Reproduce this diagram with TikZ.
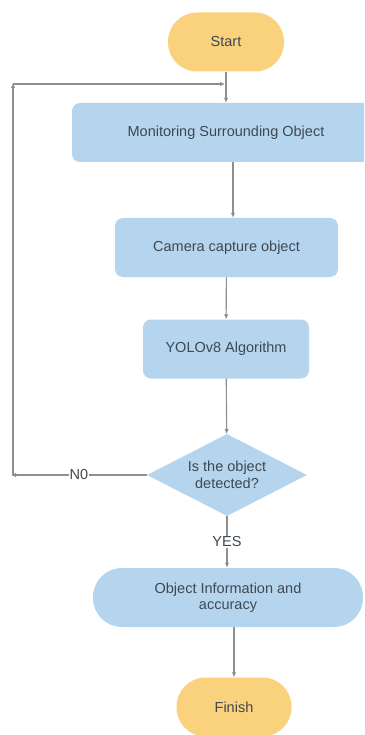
\documentclass[tikz,border=0pt]{standalone}
\usepackage{fontspec}
\setmainfont{Liberation Sans}
\usetikzlibrary{shapes.geometric, arrows.meta, positioning}

\definecolor{boxblue}{HTML}{B5D5EE}
\definecolor{termorange}{HTML}{FAD27E}
\definecolor{txtgray}{HTML}{3E4852}
\definecolor{linegray}{HTML}{8E8E8E}

\begin{document}
\begin{tikzpicture}[x=1pt, y=-1pt,
    every node/.style = {text=txtgray, font=\fontsize{14.5}{16.5}\selectfont},
    term/.style = {fill=termorange, rounded corners=29pt, minimum width=116pt, minimum height=59pt},
    procbox/.style = {fill=boxblue, rounded corners=8pt, minimum height=59pt},
    decbox/.style = {diamond, fill=boxblue, aspect=1.95, inner sep=1pt, minimum width=160pt, minimum height=82pt, align=center},
    conn/.style = {draw=linegray, line width=1.1pt, -{Latex[length=5pt, width=4.5pt, fill=black!65]}},
    lbl/.style = {fill=white, inner sep=1pt}]
            \useasboundingbox (0,0) rectangle (364,735);
            \clip (0,0) rectangle (364,735);

            \node[term] (start) at (226,42) {Start};
            \node[procbox, minimum width=308pt] (mon) at (226,132.5) {Monitoring Surrounding Object};
            \node[procbox, minimum width=223pt] (cam) at (226.5,247.5) {Camera capture object};
            \node[procbox, minimum width=166pt] (yolo) at (226,349) {YOLOv8 Algorithm};
            \node[decbox] (dec) at (227,475) {Is the object\\detected?};
            \node[procbox, rounded corners=29pt, minimum width=270pt, align=center] (info) at (228,597.5) {Object Information and\\accuracy};
            \node[term, minimum width=115pt] (finish) at (234,707) {Finish};

            \coordinate (lb) at (11,475);
            \coordinate (lt) at (13,83);
            \coordinate (lj) at (225,84);

            \draw[conn] (start) -- (mon);
            \draw[conn] ([xshift=7pt]mon.south) -- ([xshift=6.5pt]cam.north);
            \draw[conn] (cam) -- (yolo);
            \draw[conn] (yolo) -- (dec);
            \draw[conn] (dec.south) -- node[lbl] {YES} (dec.south |- info.north);
            \draw[conn] (info.south -| finish) -- (finish);

            \draw[conn] (dec.west) -- node[lbl, pos=0.5] {N0} (lb);
            \draw[conn] (lb -| lt) -- (lt);
            \draw[conn] (lt |- lj) -- (lj);
        \end{tikzpicture}
\end{document}
